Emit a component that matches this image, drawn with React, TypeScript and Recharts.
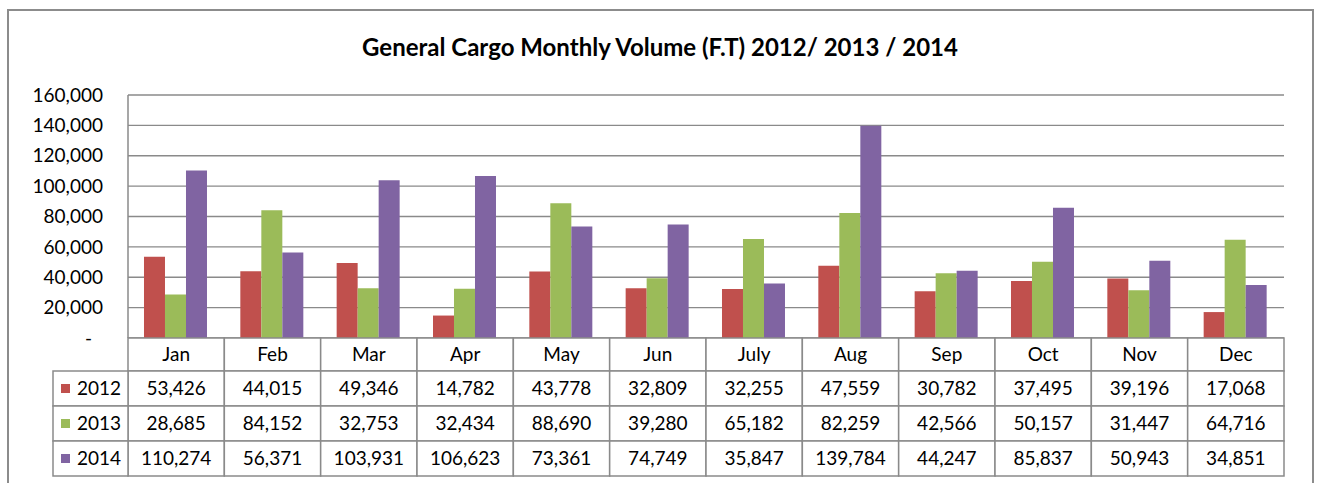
import React from 'react';
import { BarChart, Bar, XAxis, YAxis, CartesianGrid } from 'recharts';

const months = ['Jan', 'Feb', 'Mar', 'Apr', 'May', 'Jun', 'July', 'Aug', 'Sep', 'Oct', 'Nov', 'Dec'];
const values2012 = [53426, 44015, 49346, 14782, 43778, 32809, 32255, 47559, 30782, 37495, 39196, 17068];
const values2013 = [28685, 84152, 32753, 32434, 88690, 39280, 65182, 82259, 42566, 50157, 31447, 64716];
const values2014 = [110274, 56371, 103931, 106623, 73361, 74749, 35847, 139784, 44247, 85837, 50943, 34851];
const seriesNames = ['2012', '2013', '2014'];
const yTicks = [0, 20000, 40000, 60000, 80000, 100000, 120000, 140000, 160000];
const title = 'General Cargo Monthly Volume (F.T) 2012/ 2013 / 2014';

const colors = ['#C0504D', '#9BBB59', '#8064A2'];
const seriesValues = [values2012, values2013, values2014];

const data = months.map((m, i) => ({
  month: m,
  y2012: values2012[i],
  y2013: values2013[i],
  y2014: values2014[i],
}));

const W = 1320;
const H = 483;
const MARGIN = { top: 95, right: 36, bottom: 0, left: 68 };
const YAXIS_W = 60;
const XAXIS_H = 145;
const PLOT_W = W - MARGIN.left - YAXIS_W - MARGIN.right;
const HEADER_H = 33;
const ROW_H = 35;
const LEGEND_W = 75;
const LINE = '#8a8a8a';
const FONT = 'Lato, "Open Sans", sans-serif';
const FS = 19;

const fmt = (v: number) => v.toLocaleString('en-US');

const TableTick = (props: any) => {
  const { x, y, payload } = props;
  const i = months.indexOf(payload.value);
  const cellW = PLOT_W / months.length;
  const left = x - cellW / 2;
  const elems: any[] = [];
  elems.push(
    <rect key="h" x={left} y={y} width={cellW} height={HEADER_H} fill="#fff" stroke={LINE} strokeWidth={1.5} />
  );
  elems.push(
    <text key="ht" x={x} y={y + HEADER_H / 2} dy="0.35em" textAnchor="middle" fontSize={FS} fontFamily={FONT} fill="#000">
      {payload.value}
    </text>
  );
  seriesValues.forEach((vals, ri) => {
    const ry = y + HEADER_H + ri * ROW_H;
    elems.push(
      <rect key={'r' + ri} x={left} y={ry} width={cellW} height={ROW_H} fill="#fff" stroke={LINE} strokeWidth={1.5} />
    );
    elems.push(
      <text key={'t' + ri} x={x} y={ry + ROW_H / 2} dy="0.35em" textAnchor="middle" fontSize={FS} fontFamily={FONT} fill="#000">
        {fmt(vals[i])}
      </text>
    );
    if (i === 0) {
      const lx = left - LEGEND_W;
      elems.push(
        <rect key={'l' + ri} x={lx} y={ry} width={LEGEND_W} height={ROW_H} fill="#fff" stroke={LINE} strokeWidth={1.5} />
      );
      elems.push(
        <rect key={'ls' + ri} x={lx + 8} y={ry + ROW_H / 2 - 4.5} width={9} height={9} fill={colors[ri]} />
      );
      elems.push(
        <text key={'lt' + ri} x={lx + 24} y={ry + ROW_H / 2} dy="0.35em" textAnchor="start" fontSize={FS} fontFamily={FONT} fill="#000">
          {seriesNames[ri]}
        </text>
      );
    }
  });
  return <g>{elems}</g>;
};

const YTick = (props: any) => {
  const { x, y, payload } = props;
  const isZero = payload.value === 0;
  return (
    <text x={isZero ? x - 11 : x} y={y} dy="0.35em" textAnchor="end" fontSize={FS} fontFamily={FONT} fill="#000">
      {isZero ? '-' : fmt(payload.value)}
    </text>
  );
};

export default function App() {
  return (
    <div style={{ position: 'absolute', left: 0, top: 0, width: W, height: H, overflow: 'hidden', background: '#fff' }}>
      <div
        style={{
          position: 'absolute',
          left: 7,
          top: 9,
          width: 1307,
          height: 500,
          border: '2px solid #8c8c8c',
          boxSizing: 'border-box',
        }}
      />
      <div
        style={{
          position: 'absolute',
          left: 0,
          top: 34,
          width: W,
          textAlign: 'center',
          fontFamily: FONT,
          fontWeight: 700,
          fontSize: 24,
          color: '#000',
          lineHeight: '26px',
        }}
      >
        {title}
      </div>
      <div style={{ position: 'absolute', left: 0, top: 0 }}>
        <BarChart
          width={W}
          height={H}
          data={data}
          margin={MARGIN}
          barCategoryGap="16.6%"
          barGap={0}
        >
          <CartesianGrid vertical={false} stroke={LINE} strokeWidth={1.3} />
          <XAxis
            dataKey="month"
            height={XAXIS_H}
            axisLine={false}
            tickLine={false}
            tickSize={0}
            tickMargin={0}
            interval={0}
            tick={<TableTick />}
          />
          <YAxis
            width={YAXIS_W}
            domain={[0, 160000]}
            ticks={yTicks}
            axisLine={{ stroke: LINE, strokeWidth: 1.5 }}
            tickLine={false}
            tickSize={0}
            tickMargin={25}
            tick={<YTick />}
          />
          <Bar dataKey="y2012" name={seriesNames[0]} fill={colors[0]} isAnimationActive={false} />
          <Bar dataKey="y2013" name={seriesNames[1]} fill={colors[1]} isAnimationActive={false} />
          <Bar dataKey="y2014" name={seriesNames[2]} fill={colors[2]} isAnimationActive={false} />
        </BarChart>
      </div>
    </div>
  );
}
